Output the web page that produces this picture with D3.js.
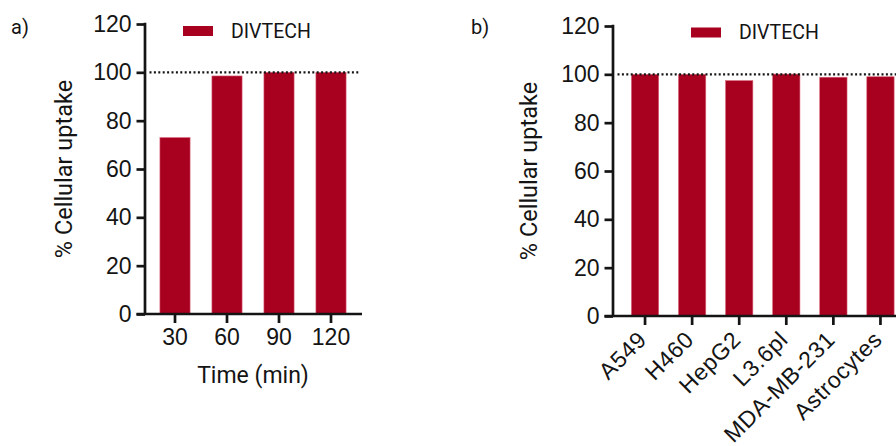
<!DOCTYPE html>
<html>
<head>
<meta charset="utf-8">
<script src="https://cdn.jsdelivr.net/npm/d3@7"></script>
<style>
  body { margin: 0; background: #fff; }
  svg { display: block; font-family: Roboto, "Noto Sans", sans-serif; }
</style>
</head>
<body>
<svg id="chart" width="896" height="446"></svg>
<script>
// data
const seriesName = "DIVTECH";
const timeCats = ["30", "60", "90", "120"];
const timeValues = [73, 98.5, 100, 100];
const cellCats = ["A549", "H460", "HepG2", "L3.6pl", "MDA-MB-231", "Astrocytes"];
const cellValues = [100, 100, 97.4, 100.1, 98.8, 99];
const yTicks = [0, 20, 40, 60, 80, 100, 120];
const refLevel = 100;

const BAR_COLOR = "#a8001f";
const INK = "#141414";
const AXIS_W = 2.7;
const TICK_LEN = 8.5;
const FONT = "23px";

const svg = d3.select("#chart");

function drawPanel(o) {
  var g = svg.append("g");

  var y = d3.scaleLinear().domain([0, 120]).range([o.y0, o.y0 - 290]);
  var x = d3.scaleBand()
    .domain(o.cats)
    .range(o.band)
    .paddingInner(0.42)
    .paddingOuter(0.21);

  // bars
  g.selectAll("rect.bar")
    .data(o.values)
    .enter().append("rect")
    .attr("class", "bar")
    .attr("x", (d, i) => x(o.cats[i]))
    .attr("width", x.bandwidth())
    .attr("y", d => y(d))
    .attr("height", d => y(0) - y(d))
    .attr("fill", BAR_COLOR)
    .attr("stroke", "#d9667a")
    .attr("stroke-width", 0.6);

  // reference line at 100 %
  g.append("line")
    .attr("x1", o.axisX + 4.5)
    .attr("x2", o.xEnd - 2)
    .attr("y1", y(refLevel))
    .attr("y2", y(refLevel))
    .attr("stroke", INK)
    .attr("stroke-width", 2.2)
    .attr("stroke-dasharray", "2,2.4");

  // y axis
  var ya = g.append("g")
    .attr("transform", "translate(" + o.axisX + ",0)")
    .call(d3.axisLeft(y).tickValues(yTicks).tickSize(TICK_LEN).tickPadding(5));
  ya.select(".domain").remove();
  ya.selectAll(".tick line").attr("stroke", INK).attr("stroke-width", AXIS_W);
  ya.selectAll(".tick text")
    .attr("fill", INK)
    .style("font-size", FONT);

  g.append("line")
    .attr("x1", o.axisX).attr("x2", o.axisX)
    .attr("y1", y(120) - AXIS_W / 2).attr("y2", y(0))
    .attr("stroke", INK).attr("stroke-width", AXIS_W);

  // x axis
  var xa = g.append("g")
    .attr("transform", "translate(0," + o.y0 + ")")
    .call(d3.axisBottom(x).tickSize(9).tickPadding(6));
  xa.select(".domain").remove();
  xa.selectAll(".tick line").attr("stroke", INK).attr("stroke-width", AXIS_W);
  var xt = xa.selectAll(".tick text")
    .attr("fill", INK)
    .style("font-size", FONT);
  if (o.rotate) {
    xt.attr("x", 0).attr("y", 0).attr("dy", 0)
      .attr("text-anchor", "end")
      .style("letter-spacing", "0.6px")
      .attr("transform", "translate(3,25) rotate(-45)");
  }

  g.append("line")
    .attr("x1", o.axisX - TICK_LEN).attr("x2", o.xEnd)
    .attr("y1", y(0)).attr("y2", y(0))
    .attr("stroke", INK).attr("stroke-width", AXIS_W);

  // axis titles
  g.append("text")
    .attr("transform", "translate(" + o.yTitleX + "," + (o.y0 - 145) + ") rotate(-90)")
    .attr("text-anchor", "middle")
    .attr("dy", "0.35em")
    .attr("fill", INK)
    .style("font-size", "23.5px")
    .text("% Cellular uptake");

  if (o.xTitle) {
    g.append("text")
      .attr("x", o.xTitleX)
      .attr("y", 375)
      .attr("text-anchor", "middle")
      .attr("dy", "0.35em")
      .attr("fill", INK)
      .style("font-size", FONT)
      .text(o.xTitle);
  }

  // legend
  g.append("rect")
    .attr("x", o.legendX)
    .attr("y", o.legendY - 5)
    .attr("width", 30)
    .attr("height", 10)
    .attr("fill", BAR_COLOR);
  g.append("text")
    .attr("x", o.legendX + 48)
    .attr("y", o.legendY)
    .attr("dy", "0.35em")
    .attr("fill", INK)
    .style("font-size", "19.5px")
    .text(seriesName);

  // panel letter
  g.append("text")
    .attr("x", o.letterX)
    .attr("y", 27)
    .attr("dy", "0.35em")
    .attr("fill", INK)
    .style("font-size", "20px")
    .text(o.letter);
}

drawPanel({
  letter: "a)", letterX: 11,
  cats: timeCats, values: timeValues,
  y0: 314, axisX: 145, xEnd: 362, band: [149, 357],
  yTitleX: 64, xTitle: "Time (min)", xTitleX: 253,
  legendX: 183, legendY: 31, rotate: false
});

drawPanel({
  letter: "b)", letterX: 471,
  cats: cellCats, values: cellValues,
  y0: 316, axisX: 613, xEnd: 900, band: [621.5, 904],
  yTitleX: 529, xTitle: null,
  legendX: 691, legendY: 32.5, rotate: true
});
</script>
</body>
</html>
